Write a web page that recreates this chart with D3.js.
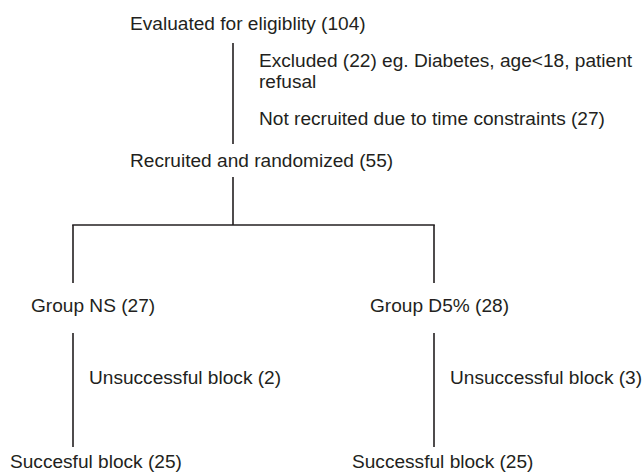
<!DOCTYPE html>
<html>
<head>
<meta charset="utf-8">
<script src="https://cdn.jsdelivr.net/npm/d3@7"></script>
<style>
  html, body { margin: 0; padding: 0; background: #fff; }
  svg { display: block; }
  text { font-family: "Liberation Sans", Arial, Helvetica, sans-serif; fill: #231f20; }
</style>
</head>
<body>
<svg id="chart" width="643" height="472"></svg>
<script>
// ---- data ----
const stages = ["Evaluated for eligiblity (104)", "Recruited and randomized (55)"];
const exclusionLines = ["Excluded (22) eg. Diabetes, age<18, patient", "refusal", "Not recruited due to time constraints (27)"];
const groups = ["Group NS (27)", "Group D5% (28)"];
const unsuccessful = ["Unsuccessful block (2)", "Unsuccessful block (3)"];
const successful = ["Succesful block (25)", "Successful block (25)"];

// ---- layout via scales ----
const svg = d3.select("#chart");
const fontSize = 19.1;
const ink = "#231f20";

const colX = d3.scalePoint().domain(["left", "trunk", "right"]).range([73, 434]);
const trunkX = 233;
const armX = d3.scaleOrdinal().domain(groups).range([colX("left"), colX("right")]);

const yBase = d3.scaleOrdinal()
  .domain(["eval", "excl", "refusal", "notrec", "recr", "group", "unsucc", "succ"])
  .range([30, 67, 88, 125, 167, 312, 384, 468]);

const g = svg.append("g");

g.selectAll("text.stage").data(stages).join("text")
  .attr("class", "stage")
  .attr("x", 130)
  .attr("y", (d, i) => yBase(i === 0 ? "eval" : "recr"))
  .attr("font-size", fontSize)
  .text(d => d);

const exKeys = ["excl", "refusal", "notrec"];
g.selectAll("text.excl").data(exclusionLines).join("text")
  .attr("class", "excl")
  .attr("x", 259)
  .attr("y", (d, i) => yBase(exKeys[i]))
  .attr("font-size", fontSize)
  .text(d => d);

const line = (x1, y1, x2, y2) => g.append("line")
  .attr("x1", x1).attr("y1", y1).attr("x2", x2).attr("y2", y2)
  .attr("stroke", ink).attr("stroke-width", 1.6);

line(trunkX, 43, trunkX, 144);
line(trunkX, 177, trunkX, 225);
line(colX("left") - 0.8, 225, colX("right") + 0.8, 225);

const groupLabelX = [31, 370];
const unsuccX = [89, 450];
const succX = [10, 352];
groups.forEach((grp) => {
  const x = armX(grp);
  line(x, 225, x, 283);
  line(x, 333, x, 447);
});

g.selectAll("text.group").data(groups).join("text")
  .attr("class", "group")
  .attr("x", (d, i) => groupLabelX[i])
  .attr("y", yBase("group"))
  .attr("font-size", fontSize)
  .text(d => d);

g.selectAll("text.unsucc").data(unsuccessful).join("text")
  .attr("class", "unsucc")
  .attr("x", (d, i) => unsuccX[i])
  .attr("y", yBase("unsucc"))
  .attr("font-size", fontSize)
  .text(d => d);

g.selectAll("text.succ").data(successful).join("text")
  .attr("class", "succ")
  .attr("x", (d, i) => succX[i])
  .attr("y", yBase("succ"))
  .attr("font-size", fontSize)
  .text(d => d);
</script>
</body>
</html>
